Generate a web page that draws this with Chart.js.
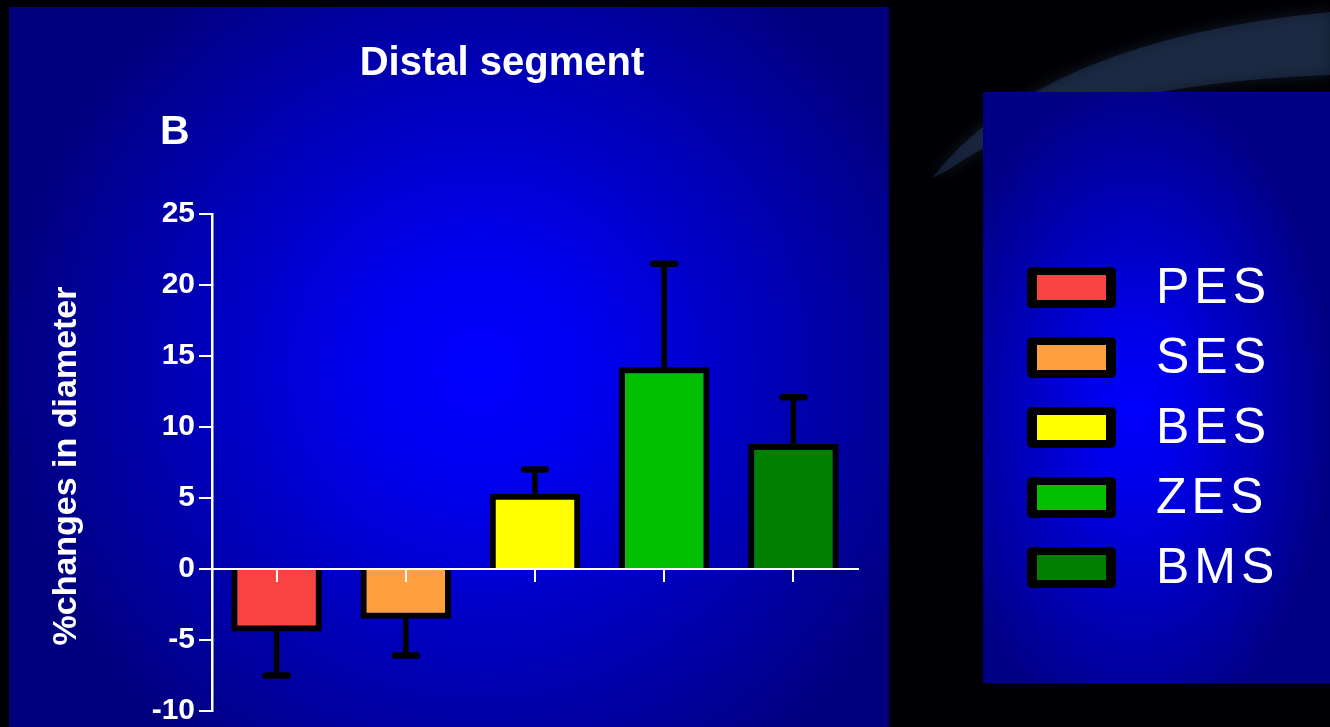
<!DOCTYPE html>
<html>
<head>
<meta charset="utf-8">
<script src="https://cdn.jsdelivr.net/npm/chart.js@4.4.1/dist/chart.umd.min.js"></script>
<style>
  html, body { margin: 0; padding: 0; background: #000; overflow: hidden; }
</style>
</head>
<body>
<canvas id="chartDistal" width="1330" height="727"></canvas>
<script>
const stents = ["PES", "SES", "BES", "ZES", "BMS"];
const meanChange = [-4.4, -3.5, 5.3, 14.2, 8.8];
const semChange = [3.1, 2.6, 1.7, 7.3, 3.3];
const barColors = ["#F94343", "#FF9F40", "#FFFF00", "#00C000", "#008000"];
const yTicks = [-10, -5, 0, 5, 10, 15, 20, 25];

const FONT = '"Liberation Sans", Arial, sans-serif';

// slide backdrop: black page, faint planet crescent, two blue panels
const backdrop = {
  id: "backdrop",
  beforeDraw(chart) {
    const ctx = chart.ctx;
    ctx.save();
    ctx.fillStyle = "#000004";
    ctx.fillRect(0, 0, chart.width, chart.height);

    // lit crescent of the planet in the top right corner
    ctx.shadowColor = "rgba(80,110,160,0.6)";
    ctx.shadowBlur = 16;
    ctx.fillStyle = "rgba(45,70,115,0.38)";
    ctx.beginPath();
    ctx.moveTo(932, 178);
    ctx.quadraticCurveTo(1040, 40, 1330, 12);
    ctx.lineTo(1330, 75);
    ctx.quadraticCurveTo(1070, 85, 948, 170);
    ctx.closePath();
    ctx.fill();
    ctx.shadowBlur = 0;

    // main panel
    let g = ctx.createRadialGradient(480, 370, 0, 480, 370, 480);
    g.addColorStop(0, "#0000FF");
    g.addColorStop(0.2, "#0000F4");
    g.addColorStop(1, "#00007E");
    ctx.fillStyle = g;
    ctx.fillRect(9, 7, 880, 720);

    // legend panel
    ctx.save();
    ctx.beginPath();
    ctx.rect(983, 92, 347, 591);
    ctx.clip();
    ctx.translate(1135, 410);
    ctx.scale(0.6, 1);
    g = ctx.createRadialGradient(0, 0, 0, 0, 0, 330);
    g.addColorStop(0, "#0000FF");
    g.addColorStop(0.25, "#0000E8");
    g.addColorStop(1, "#000084");
    ctx.fillStyle = g;
    ctx.fillRect(-400, -400, 800, 800);
    ctx.restore();
    ctx.restore();
  }
};

// mean + SEM whiskers, drawn away from the baseline
const errorBars = {
  id: "errorBars",
  afterDatasetsDraw(chart) {
    const ctx = chart.ctx;
    const y = chart.scales.y;
    const bars = chart.getDatasetMeta(0).data;
    ctx.save();
    ctx.strokeStyle = "#000";
    ctx.lineCap = "round";
    bars.forEach((bar, i) => {
      const m = meanChange[i];
      const end = m + Math.sign(m) * semChange[i];
      const y0 = y.getPixelForValue(m);
      const y1 = y.getPixelForValue(end);
      ctx.lineWidth = 5.5;
      ctx.beginPath();
      ctx.moveTo(bar.x, y0);
      ctx.lineTo(bar.x, y1);
      ctx.stroke();
      ctx.lineWidth = 6.5;
      ctx.beginPath();
      ctx.moveTo(bar.x - 11, y1);
      ctx.lineTo(bar.x + 11, y1);
      ctx.stroke();
    });
    ctx.restore();
  }
};

// titles and the legend in the right panel
const labels = {
  id: "labels",
  afterDraw(chart) {
    const ctx = chart.ctx;
    ctx.save();
    ctx.fillStyle = "#fff";

    ctx.font = "bold 40px " + FONT;
    ctx.textAlign = "center";
    ctx.textBaseline = "alphabetic";
    ctx.fillText("Distal segment", 502, 75);

    ctx.textAlign = "left";
    ctx.font = "bold 41px " + FONT;
    ctx.fillText("B", 160, 144);

    ctx.save();
    ctx.translate(76, 466);
    ctx.rotate(-Math.PI / 2);
    ctx.textAlign = "center";
    ctx.font = "bold 34px " + FONT;
    ctx.fillText("%changes in diameter", 0, 0);
    ctx.restore();

    stents.forEach((name, i) => {
      const top = 267 + i * 70;
      ctx.fillStyle = "#000";
      ctx.beginPath();
      ctx.roundRect(1027, top, 89, 41, 5);
      ctx.fill();
      ctx.fillStyle = barColors[i];
      ctx.fillRect(1037, top + 8, 69, 25);

      ctx.fillStyle = "#fff";
      ctx.font = "50px " + FONT;
      ctx.letterSpacing = "5px";
      ctx.textAlign = "left";
      ctx.textBaseline = "middle";
      ctx.fillText(name, 1156, top + 22);
    });
    ctx.restore();
  }
};

new Chart(document.getElementById("chartDistal"), {
  type: "bar",
  data: {
    labels: stents,
    datasets: [{
      data: meanChange,
      backgroundColor: barColors,
      borderColor: "#000",
      borderWidth: 6,
      barPercentage: 0.7,
      categoryPercentage: 1
    }]
  },
  options: {
    responsive: false,
    animation: false,
    devicePixelRatio: 1,
    layout: { padding: { left: 112, right: 472, top: 214, bottom: 16 } },
    plugins: { legend: { display: false }, tooltip: { enabled: false } },
    scales: {
      x: {
        position: { y: 0 },
        afterFit: s => { s.height = 0; },
        border: { display: true, color: "#fff", width: 2, z: 1 },
        grid: { offset: false, drawOnChartArea: false, drawTicks: true, tickLength: 12, color: "#fff", lineWidth: 2, z: 1 },
        ticks: { display: false }
      },
      y: {
        min: yTicks[0],
        max: yTicks[yTicks.length - 1],
        afterFit: s => { s.width = 100; },
        afterBuildTicks: s => { s.ticks = yTicks.map(v => ({ value: v })); },
        border: { display: true, color: "#fff", width: 2.5 },
        grid: { drawOnChartArea: false, drawTicks: true, tickLength: 13, color: "#fff", lineWidth: 2 },
        ticks: {
          color: "#fff",
          padding: 4,
          font: { family: FONT, size: 30, weight: "bold", lineHeight: 0.6 }
        }
      }
    }
  },
  plugins: [backdrop, errorBars, labels]
});
</script>
</body>
</html>
